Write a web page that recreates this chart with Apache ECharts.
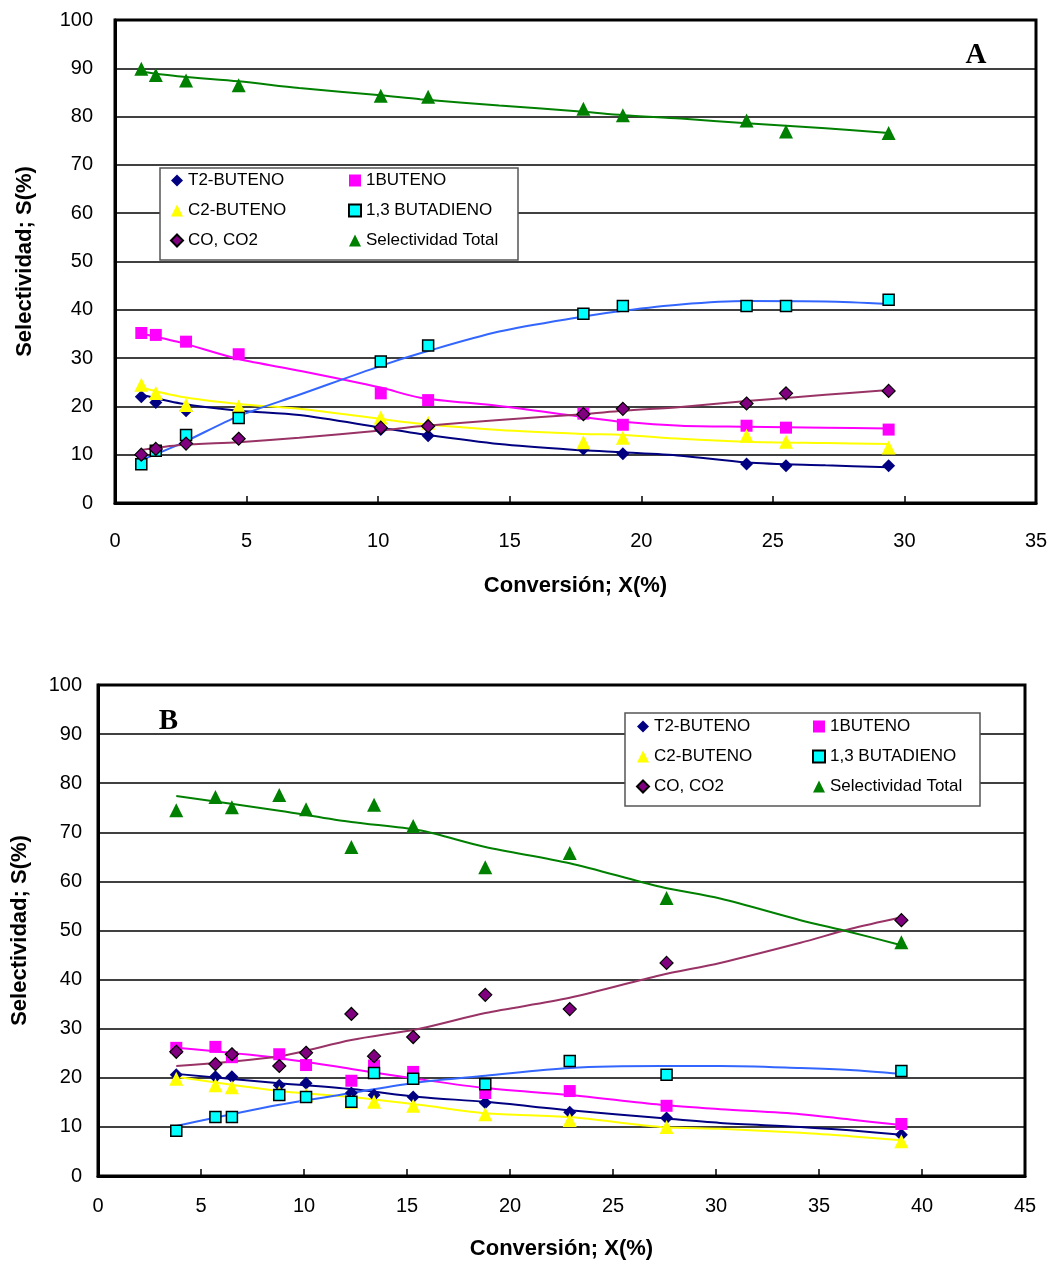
<!DOCTYPE html>
<html>
<head>
<meta charset="UTF-8">
<title>Selectividad vs Conversión</title>
<script src="https://cdn.jsdelivr.net/npm/echarts@6/dist/echarts.min.js"></script>
<style>
  body { margin: 0; background: #fff; }
  #chartmain { width: 1057px; height: 1266px; }
</style>
</head>
<body>
<div id="chartmain"></div>
<script>
// ---- Grafica A ----
var xA   = [1.0, 1.55, 2.7, 4.7, 10.1, 11.9, 17.8, 19.3, 24.0, 25.5, 29.4];
var t2A  = [22.0, 20.8, 19.1, 18.8, 15.2, 13.9, 11.2, 10.2, 8.1, 7.7, 7.7];
var b1A  = [35.2, 34.8, 33.4, 30.8, 22.7, 21.3, 18.5, 16.2, 16.0, 15.6, 15.2];
var c2A  = [24.5, 22.8, 20.3, 20.0, 17.7, 16.6, 12.6, 13.5, 13.9, 12.7, 11.5];
var coA  = [10.0, 11.2, 12.3, 13.3, 15.6, 15.9, 18.4, 19.5, 20.6, 22.7, 23.2];
var bdA  = [8.0, 10.8, 14.1, 17.6, 29.3, 32.6, 39.2, 40.8, 40.8, 40.8, 42.1];
var stA  = [89.9, 88.6, 87.5, 86.5, 84.3, 84.1, 81.6, 80.3, 79.2, 76.9, 76.6];

// lineas de tendencia A
var txA   = [1.0, 2.5, 4.7, 7.0, 10.1, 11.6, 14.6, 17.8, 19.3, 21.5, 24.0, 27.0, 29.4];
var t2TA  = [22.4, 20.6, 19.1, 18.2, 15.6, 14.3, 12.2, 10.9, 10.5, 9.8, 8.4, 7.8, 7.4];
var b1TA  = [35.1, 33.2, 29.8, 27.4, 23.9, 21.8, 20.1, 17.8, 16.8, 16.0, 15.8, 15.6, 15.4];
var c2TA  = [23.9, 22.0, 20.5, 19.5, 17.4, 16.4, 15.1, 14.3, 14.1, 13.3, 12.7, 12.4, 12.2];
var coTA  = [11.0, 12.0, 12.6, 13.5, 15.0, 15.9, 17.2, 18.4, 19.1, 19.9, 21.1, 22.4, 23.4];
var bdTA  = [8.9, 12.3, 18.0, 22.4, 28.4, 31.0, 35.5, 38.6, 39.8, 41.1, 41.8, 41.7, 41.2];
var stTA  = [89.3, 88.3, 87.3, 85.9, 84.4, 83.6, 82.3, 81.0, 80.3, 79.6, 78.6, 77.6, 76.6];

// ---- Grafica B ----
var xB   = [3.8, 5.7, 6.5, 8.8, 10.1, 12.3, 13.4, 15.3, 18.8, 22.9, 27.6, 39.0];
var t2B  = [20.6, 20.2, 20.2, 18.5, 18.9, 16.9, 16.5, 16.1, 14.9, 13.0, 11.8, 8.4];
var b1B  = [26.1, 26.3, 24.2, 24.8, 22.6, 19.4, 22.5, 21.2, 16.9, 17.3, 14.3, 10.6];
var c2B  = [19.8, 18.5, 18.1, 17.0, 16.5, 15.1, 15.1, 14.3, 12.6, 11.4, 10.0, 7.1];
var coB  = [25.3, 22.8, 24.8, 22.4, 25.1, 33.0, 24.4, 28.3, 36.9, 34.0, 43.4, 52.1];
var bdB  = [9.2, 12.0, 12.0, 16.5, 16.1, 15.1, 21.0, 19.8, 18.7, 23.4, 20.6, 21.4];
var stB  = [74.5, 77.2, 75.1, 77.6, 74.7, 67.0, 75.6, 71.3, 62.9, 65.8, 56.6, 47.6];

var txB   = [3.8, 8.8, 12.3, 15.6, 18.8, 22.9, 27.3, 30.2, 34.1, 36.5, 39.0];
var t2TB  = [20.8, 18.9, 17.7, 16.1, 15.1, 13.4, 11.8, 10.8, 10.0, 9.3, 8.4];
var b1TB  = [26.1, 24.0, 21.8, 19.7, 17.9, 16.5, 14.5, 13.6, 12.6, 11.5, 10.4];
var c2TB  = [20.2, 17.3, 16.1, 14.5, 12.8, 12.0, 10.0, 9.6, 8.8, 8.1, 7.3];
var coTB  = [22.4, 24.4, 27.7, 30.0, 33.2, 36.3, 40.9, 43.4, 47.5, 50.3, 52.7];
var bdTB  = [10.2, 14.5, 16.9, 19.1, 20.4, 22.0, 22.4, 22.4, 22.0, 21.6, 20.8];
var stTB  = [77.4, 74.4, 72.1, 70.4, 67.0, 63.7, 58.9, 56.5, 52.1, 49.7, 47.0];

var FONT = 'Liberation Sans';

function pares(xs, ys) {
    var out = [];
    for (var i = 0; i < xs.length; i++) out.push([xs[i], ys[i]]);
    return out;
}

// estilo de cada serie de puntos
var estilos = {
    'T2-BUTENO':          { symbol: 'diamond',  size: 13, color: '#000080', border: '#000080', bw: 0 },
    '1BUTENO':            { symbol: 'rect',     size: 12, color: '#FF00FF', border: '#FF00FF', bw: 0 },
    'C2-BUTENO':          { symbol: 'triangle', size: 14, color: '#FFFF00', border: '#FFFF00', bw: 0 },
    '1,3 BUTADIENO':      { symbol: 'rect',     size: 11, color: '#00FFFF', border: '#000000', bw: 1.5 },
    'CO, CO2':            { symbol: 'diamond',  size: 13, color: '#800080', border: '#000000', bw: 1.2 },
    'Selectividad Total': { symbol: 'triangle', size: 14, color: '#008000', border: '#008000', bw: 0 }
};
var colorTend = {
    'T2-BUTENO': '#000080', '1BUTENO': '#FF00FF', 'C2-BUTENO': '#FFFF00',
    '1,3 BUTADIENO': '#3366FF', 'CO, CO2': '#993366', 'Selectividad Total': '#008000'
};

function puntos(nombre, idx, xs, ys) {
    var e = estilos[nombre];
    return {
        name: nombre, type: 'scatter', xAxisIndex: idx, yAxisIndex: idx,
        symbol: e.symbol, symbolSize: e.size, z: 5,
        itemStyle: { color: e.color, borderColor: e.border, borderWidth: e.bw, opacity: 1 },
        data: pares(xs, ys)
    };
}
function tendencia(nombre, idx, xs, ys) {
    return {
        name: 'tend ' + nombre + ' ' + idx, type: 'line', xAxisIndex: idx, yAxisIndex: idx,
        showSymbol: false, silent: true, z: 3, smooth: 0.3,
        lineStyle: { color: colorTend[nombre], width: 2 },
        data: pares(xs, ys)
    };
}

var series = [
    tendencia('T2-BUTENO', 0, txA, t2TA),
    tendencia('1BUTENO', 0, txA, b1TA),
    tendencia('C2-BUTENO', 0, txA, c2TA),
    tendencia('1,3 BUTADIENO', 0, txA, bdTA),
    tendencia('CO, CO2', 0, txA, coTA),
    tendencia('Selectividad Total', 0, txA, stTA),
    puntos('T2-BUTENO', 0, xA, t2A),
    puntos('1BUTENO', 0, xA, b1A),
    puntos('C2-BUTENO', 0, xA, c2A),
    puntos('1,3 BUTADIENO', 0, xA, bdA),
    puntos('CO, CO2', 0, xA, coA),
    puntos('Selectividad Total', 0, xA, stA),
    tendencia('T2-BUTENO', 1, txB, t2TB),
    tendencia('1BUTENO', 1, txB, b1TB),
    tendencia('C2-BUTENO', 1, txB, c2TB),
    tendencia('1,3 BUTADIENO', 1, txB, bdTB),
    tendencia('CO, CO2', 1, txB, coTB),
    tendencia('Selectividad Total', 1, txB, stTB),
    puntos('T2-BUTENO', 1, xB, t2B),
    puntos('1BUTENO', 1, xB, b1B),
    puntos('C2-BUTENO', 1, xB, c2B),
    puntos('1,3 BUTADIENO', 1, xB, bdB),
    puntos('CO, CO2', 1, xB, coB),
    puntos('Selectividad Total', 1, xB, stB)
];

function ejeX(idx, max, margen, gap) {
    return {
        type: 'value', gridIndex: idx, min: 0, max: max, interval: 5,
        name: 'Conversión; X(%)', nameLocation: 'middle', nameGap: gap,
        nameTextStyle: { fontFamily: FONT, fontSize: 22, fontWeight: 'bold', color: '#000' },
        axisLine: { lineStyle: { color: '#000', width: 3 } },
        axisTick: { inside: true, length: 7, lineStyle: { color: '#000', width: 1.5 } },
        axisLabel: { fontFamily: FONT, fontSize: 20, color: '#000', margin: margen },
        splitLine: { show: false }
    };
}
function ejeY(idx, margen, gap) {
    return {
        type: 'value', gridIndex: idx, min: 0, max: 100, interval: 10,
        name: 'Selectividad; S(%)', nameLocation: 'middle', nameGap: gap, nameRotate: 90,
        nameTextStyle: { fontFamily: FONT, fontSize: 22, fontWeight: 'bold', color: '#000' },
        axisLine: { lineStyle: { color: '#000', width: 3 } },
        axisTick: { show: false },
        axisLabel: { fontFamily: FONT, fontSize: 20, color: '#000', margin: margen },
        splitLine: { lineStyle: { color: '#000', width: 1.5 } }
    };
}

function leyenda(datos, left, top) {
    return {
        data: datos, left: left, top: top, orient: 'vertical', itemGap: 13,
        itemWidth: 12, itemHeight: 12, z: 20, selectedMode: false,
        textStyle: { fontFamily: FONT, fontSize: 17, color: '#000' }
    };
}

var col1 = ['T2-BUTENO', 'C2-BUTENO', 'CO, CO2'];
var col2 = ['1BUTENO', '1,3 BUTADIENO', 'Selectividad Total'];

function etiqueta(texto, x0, x1, yc) {
    return {
        type: 'group', z: 15,
        children: [
            { type: 'rect', shape: { x: x0, y: yc - 20, width: x1 - x0, height: 30 }, style: { fill: '#fff' } },
            { type: 'text', x: (x0 + x1) / 2 - 2, y: yc - 12,
              style: { text: texto, font: 'bold 29px "Liberation Serif"', fill: '#000', textAlign: 'center', textVerticalAlign: 'middle' } }
        ]
    };
}

var mychart = echarts.init(document.getElementById('chartmain'));
var option = {
    animation: false,
    backgroundColor: '#fff',
    grid: [
        { left: 115, top: 20, width: 921, height: 483, show: true, borderColor: '#000', borderWidth: 3, backgroundColor: '#fff' },
        { left: 98, top: 685, width: 927, height: 491, show: true, borderColor: '#000', borderWidth: 3, backgroundColor: '#fff' }
    ],
    xAxis: [ejeX(0, 35, 28, 72), ejeX(1, 45, 20, 62)],
    yAxis: [ejeY(0, 22, 79), ejeY(1, 16, 67)],
    legend: [
        leyenda(col1, 165, 167),
        leyenda(col2, 343, 167),
        leyenda(col1, 631, 713),
        leyenda(col2, 807, 713)
    ],
    graphic: [
        { type: 'rect', z: 12, shape: { x: 160, y: 168, width: 358, height: 92 },
          style: { fill: '#fff', stroke: '#555', lineWidth: 1.5 } },
        { type: 'rect', z: 12, shape: { x: 625, y: 713, width: 355, height: 93 },
          style: { fill: '#fff', stroke: '#555', lineWidth: 1.5 } },
        etiqueta('A', 946, 1010, 68),
        etiqueta('B', 138, 203, 734)
    ],
    series: series
};
mychart.setOption(option);
</script>
</body>
</html>
